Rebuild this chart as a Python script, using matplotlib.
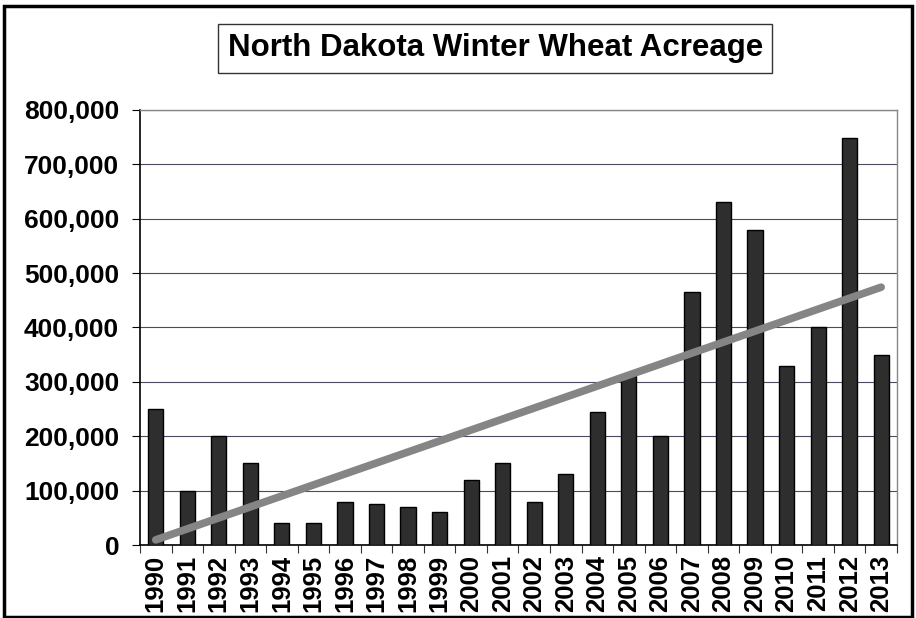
import numpy as np
import matplotlib.pyplot as plt
from matplotlib.patches import Rectangle

plt.rcParams['font.family'] = ['Liberation Sans', 'DejaVu Sans']

# Datos (acres)
years = [str(y) for y in range(1990, 2014)]
acres = [250000, 100000, 200000, 150000, 40000, 40000, 80000, 75000,
         70000, 60000, 120000, 150000, 80000, 130000, 245000, 310000,
         200000, 465000, 630000, 580000, 330000, 400000, 748000, 350000]
y_ticks = [0, 100000, 200000, 300000, 400000, 500000, 600000, 700000, 800000]

fig = plt.figure(figsize=(9.16, 6.18), dpi=100)
ax = fig.add_axes([0.1528, 0.1181, 0.8264, 0.704])

x = np.arange(len(years))
ax.bar(x, acres, width=0.48, color='#2e2e2e', edgecolor='black', linewidth=1, zorder=3)

# Linea de tendencia (ajuste lineal como en Excel)
m, b = np.polyfit(x, acres, 1)
ax.plot(x, m * x + b, color='#858585', linewidth=5.5, solid_capstyle='round', zorder=4)

ax.set_xlim(-0.5, len(years) - 0.5)
ax.set_ylim(0, 800000)
ax.set_yticks(y_ticks)
ax.set_yticklabels([f'{v:,}' for v in y_ticks], fontsize=19, fontweight='bold')
ax.yaxis.grid(True, color='#4a4a60', linewidth=0.8, zorder=0)

# marcas entre categorias, etiquetas centradas
ax.set_xticks(np.arange(-0.5, len(years), 1.0))
ax.set_xticklabels([])
ax.set_xticks(x, minor=True)
ax.set_xticklabels(years, minor=True, rotation=90, fontsize=18.5, fontweight='bold')
ax.tick_params(axis='x', which='major', direction='out', length=6, color='#333333')
ax.tick_params(axis='x', which='minor', length=0, pad=7)
ax.tick_params(axis='y', direction='out', length=6, pad=9)

for s in ['top', 'right']:
    ax.spines[s].set_color('#888888')
    ax.spines[s].set_linewidth(1)
ax.spines['left'].set_linewidth(1.2)
ax.spines['bottom'].set_linewidth(1.2)

fig.text(0.5409, 0.922, 'North Dakota Winter Wheat Acreage', ha='center', va='center',
         fontsize=22.5, fontweight='bold',
         bbox=dict(boxstyle='square,pad=0.3', facecolor='white', edgecolor='#333333', linewidth=1))

# Borde exterior del grafico
fig.patches.append(Rectangle((4 / 916, 1 / 618), 908 / 916, 611 / 618, transform=fig.transFigure,
                             fill=False, edgecolor='black', linewidth=2.5))

fig.savefig('out.png', dpi=100)
